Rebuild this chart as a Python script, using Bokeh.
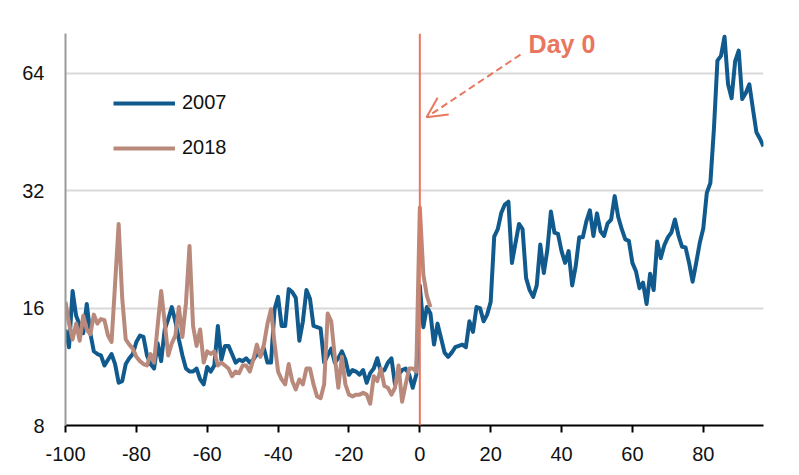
from bokeh.plotting import figure
from bokeh.models import (Span, Label, Arrow, OpenHead, Legend, LegendItem,
                          FixedTicker, PrintfTickFormatter, Range1d)
from bokeh.embed import file_html
from bokeh.resources import INLINE

# ---------------- data ----------------
vix_2007_pre = [  # days -100 .. -1
    14.1, 12.7, 17.7, 15.3, 14.5, 13.8, 16.4, 13.8, 12.4, 12.2,
    12.1, 11.4, 11.8, 12.2, 11.5, 10.3, 10.4, 11.5, 11.9, 12.2,
    13.1, 13.6, 13.5, 12.1, 11.5, 11.2, 13.0, 11.7, 14.1, 15.0,
    16.1, 14.8, 13.3, 12.1, 11.2, 11.0, 11.0, 11.2, 10.5, 10.2,
    11.3, 11.0, 11.4, 14.4, 11.8, 12.8, 12.8, 12.2, 11.6, 11.8,
    11.7, 11.9, 11.6, 11.8, 12.2, 12.1, 12.6, 11.6, 11.6, 15.9,
    17.1, 14.4, 14.4, 17.9, 17.6, 17.0, 13.2, 14.8, 17.8, 16.9,
    14.4, 14.3, 14.2, 11.6, 12.1, 12.6, 11.6, 11.9, 12.4, 11.8,
    10.8, 11.1, 11.0, 10.8, 11.1, 10.3, 10.9, 11.2, 11.9, 11.0,
    11.1, 11.6, 11.9, 10.2, 10.8, 11.1, 11.2, 10.8, 10.0, 10.8,
]
vix_2007_post = [  # days 0 .. 97
    18.3, 14.3, 16.1, 15.5, 12.9, 14.6, 13.4, 12.3, 12.0, 12.3,
    12.7, 12.8, 12.9, 12.7, 14.8, 13.9, 16.1, 16.0, 14.8, 15.4,
    16.6, 24.4, 25.5, 28.1, 29.5, 30.0, 20.9, 23.5, 26.3, 25.5,
    19.1, 17.8, 17.1, 18.3, 23.3, 19.7, 22.6, 28.3, 25.0, 24.8,
    22.4, 20.9, 22.4, 18.3, 20.5, 24.3, 24.3, 26.7, 28.5, 24.5,
    28.0, 25.2, 24.5, 26.4, 27.0, 31.0, 27.4, 25.5, 24.0, 23.8,
    20.9, 19.9, 18.0, 18.6, 16.4, 19.6, 17.8, 23.7, 21.5, 23.2,
    24.3, 25.0, 27.0, 24.6, 23.0, 22.9, 20.9, 18.7, 20.9, 23.5,
    25.6, 31.6, 33.5, 46.0, 69.0, 71.0, 79.5, 60.0, 55.3, 68.8,
    73.2, 55.0, 57.0, 60.0, 52.0, 45.2, 43.5, 41.6,
]
vix_2018 = [  # days -100 .. 3
    16.6, 14.6, 13.3, 14.6, 13.2, 15.3, 14.1, 13.7, 15.4, 14.6,
    15.0, 14.9, 13.6, 13.1, 18.5, 26.3, 17.0, 13.3, 12.9, 12.6,
    12.0, 11.7, 11.5, 11.4, 12.2, 11.6, 14.4, 17.7, 14.7, 12.1,
    13.0, 13.6, 16.1, 13.5, 16.5, 23.1, 14.4, 12.8, 14.1, 11.6,
    12.4, 12.2, 12.4, 11.4, 11.6, 11.4, 11.2, 10.7, 11.0, 10.9,
    11.4, 11.4, 11.0, 11.8, 12.9, 12.0, 12.9, 14.6, 15.9, 13.0,
    11.0, 10.5, 10.2, 11.5, 10.4, 9.9, 10.5, 10.2, 11.2, 11.2,
    10.2, 9.5, 9.4, 10.2, 15.5, 14.8, 12.0, 10.0, 12.0, 10.2,
    9.6, 9.5, 9.6, 9.6, 9.7, 9.6, 9.1, 10.7, 10.4, 11.2,
    10.1, 10.0, 9.6, 10.0, 11.4, 9.2, 10.2, 11.2, 11.2, 11.0,
    29.0, 19.5, 17.2, 16.1,
]
first_day = -100
vix_2007 = vix_2007_pre + vix_2007_post
days_2007 = list(range(first_day, first_day + len(vix_2007)))
days_2018 = list(range(first_day, first_day + len(vix_2018)))

x_ticks = [-100, -80, -60, -40, -20, 0, 20, 40, 60, 80]
y_ticks = [8, 16, 32, 64]
series_names = ["2007", "2018"]
annotation_text = "Day 0"
event_day = 0

BLUE = "#105A8E"
BROWN = "#B98A7B"
RED = "#E9765E"
FONT = "Liberation Sans"

# ---------------- figure ----------------
p = figure(width=791, height=467, y_axis_type="log",
           x_range=Range1d(-100, 97), y_range=Range1d(8, 81),
           output_backend="svg", toolbar_location=None,
           min_border_left=65, min_border_right=28,
           min_border_top=33, min_border_bottom=42)
p.outline_line_color = None
p.background_fill_color = "white"

p.xgrid.visible = False
p.ygrid.ticker = FixedTicker(ticks=y_ticks[1:])
p.ygrid.grid_line_color = "#D9D9D9"
p.ygrid.grid_line_width = 2

xa = p.xaxis[0]
xa.ticker = FixedTicker(ticks=x_ticks)
xa.formatter = PrintfTickFormatter(format="%d")
xa.axis_line_color = "black"
xa.axis_line_width = 2
xa.major_tick_line_color = "black"
xa.major_tick_line_width = 2
xa.major_tick_out = 7
xa.major_tick_in = 0
xa.minor_tick_line_color = None
xa.major_label_standoff = 14
xa.major_label_text_font = FONT
xa.major_label_text_font_size = "20px"
xa.major_label_text_color = "#111111"

ya = p.yaxis[0]
ya.ticker = FixedTicker(ticks=y_ticks)
ya.formatter = PrintfTickFormatter(format="%d")
ya.axis_line_color = "#9A9A9A"
ya.axis_line_width = 2
ya.major_tick_line_color = None
ya.major_tick_out = 0
ya.major_tick_in = 0
ya.minor_tick_line_color = None
ya.major_label_standoff = 21
ya.major_label_text_font = FONT
ya.major_label_text_font_size = "20px"
ya.major_label_text_color = "#111111"

r07 = p.line(days_2007, vix_2007, line_color=BLUE, line_width=4,
             line_join="round")
r18 = p.line(days_2018, vix_2018, line_color=BROWN, line_width=4,
             line_join="round")

p.add_layout(Span(location=event_day, dimension="height",
                  line_color=RED, line_width=2))

legend = Legend(items=[LegendItem(label=series_names[0], renderers=[r07]),
                       LegendItem(label=series_names[1], renderers=[r18])],
                location=(48, 266), orientation="vertical",
                glyph_width=62, glyph_height=20, label_height=20,
                spacing=22, padding=0, margin=0, label_standoff=7,
                label_text_font=FONT, label_text_font_size="20px",
                label_text_color="#111111",
                border_line_alpha=0, background_fill_alpha=0)
p.add_layout(legend, "center")

p.add_layout(Label(x=30.7, y=76.3, text=annotation_text,
                   text_font=FONT, text_font_size="25px",
                   text_font_style="bold", text_color=RED,
                   text_baseline="alphabetic", text_align="left"))

p.add_layout(Arrow(end=OpenHead(size=20, line_color=RED, line_width=2),
                   x_start=28.4, y_start=71.5, x_end=1.9, y_end=49.4,
                   line_color=RED, line_width=2, line_dash="7 4"))

open("out.html", "w").write(file_html(p, INLINE))
